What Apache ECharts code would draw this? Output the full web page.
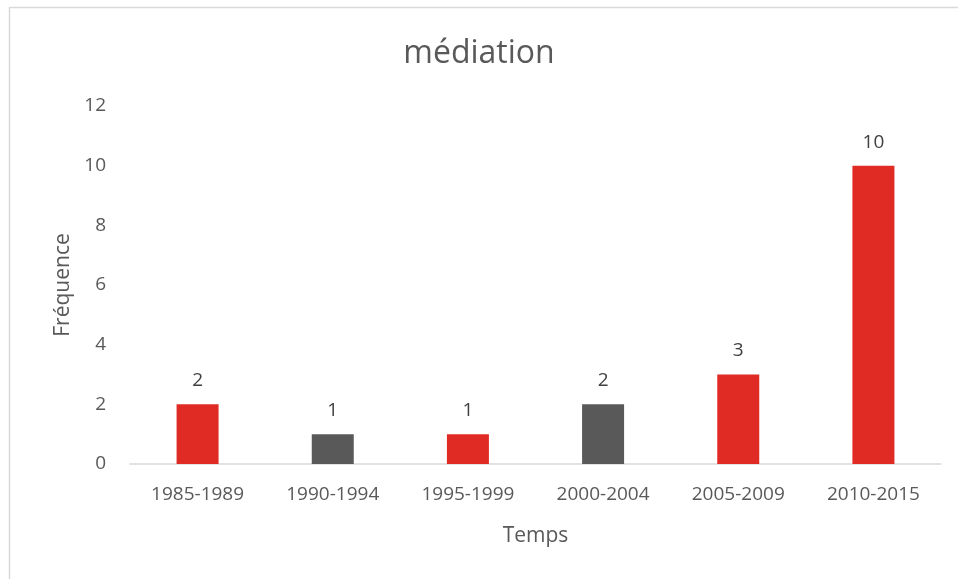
<!DOCTYPE html>
<html>
<head>
<meta charset="utf-8">
<script src="https://cdn.jsdelivr.net/npm/echarts@6/dist/echarts.min.js"></script>
<style>
  html, body { margin: 0; padding: 0; background: #fff; }
  #chart { width: 958px; height: 579px; }
</style>
</head>
<body>
<div id="chart"></div>
<script>
// Periods and counts
const categories = ['1985-1989', '1990-1994', '1995-1999', '2000-2004', '2005-2009', '2010-2015'];
const values = [2, 1, 1, 2, 3, 10];
const barColors = ['#E02B25', '#595959', '#E02B25', '#595959', '#E02B25', '#E02B25'];
const yTicks = [0, 2, 4, 6, 8, 10, 12];

const FONT = '"Open Sans", "Noto Sans", sans-serif';
const chart = echarts.init(document.getElementById('chart'), null, { renderer: 'canvas' });

chart.setOption({
  animation: false,
  backgroundColor: '#ffffff',
  textStyle: { fontFamily: FONT },
  title: {
    text: 'médiation',
    left: 'center',
    top: 33,
    textStyle: { fontFamily: FONT, fontSize: 32, fontWeight: 'normal', color: '#595959' }
  },
  graphic: [{
    type: 'rect',
    shape: { x: 9.5, y: 7.5, width: 1000, height: 1000 },
    style: { fill: 'none', stroke: '#D9D9D9', lineWidth: 1.5 },
    silent: true
  }],
  grid: { left: 130, right: 17, top: 106, bottom: 115 },
  xAxis: {
    type: 'category',
    data: categories,
    name: 'Temps',
    nameLocation: 'middle',
    nameGap: 62,
    nameTextStyle: { fontSize: 21, color: '#595959', fontFamily: FONT },
    axisLine: { lineStyle: { color: '#D9D9D9', width: 1.5 } },
    axisTick: { show: false },
    axisLabel: { fontSize: 19, color: '#595959', margin: 21, fontFamily: FONT }
  },
  yAxis: {
    type: 'value',
    min: yTicks[0],
    max: yTicks[yTicks.length - 1],
    interval: 2,
    name: 'Fréquence',
    nameLocation: 'middle',
    nameGap: 56,
    nameRotate: 90,
    nameTextStyle: { fontSize: 21, color: '#595959', fontFamily: FONT },
    axisLine: { show: false },
    axisTick: { show: false },
    splitLine: { show: false },
    axisLabel: { fontSize: 19, color: '#595959', margin: 24, fontFamily: FONT }
  },
  series: [{
    type: 'bar',
    barWidth: 42,
    data: values.map((v, i) => ({ value: v, itemStyle: { color: barColors[i] } })),
    label: {
      show: true,
      position: 'top',
      distance: 14,
      fontSize: 19,
      color: '#404040',
      fontFamily: FONT
    }
  }]
});
</script>
</body>
</html>
